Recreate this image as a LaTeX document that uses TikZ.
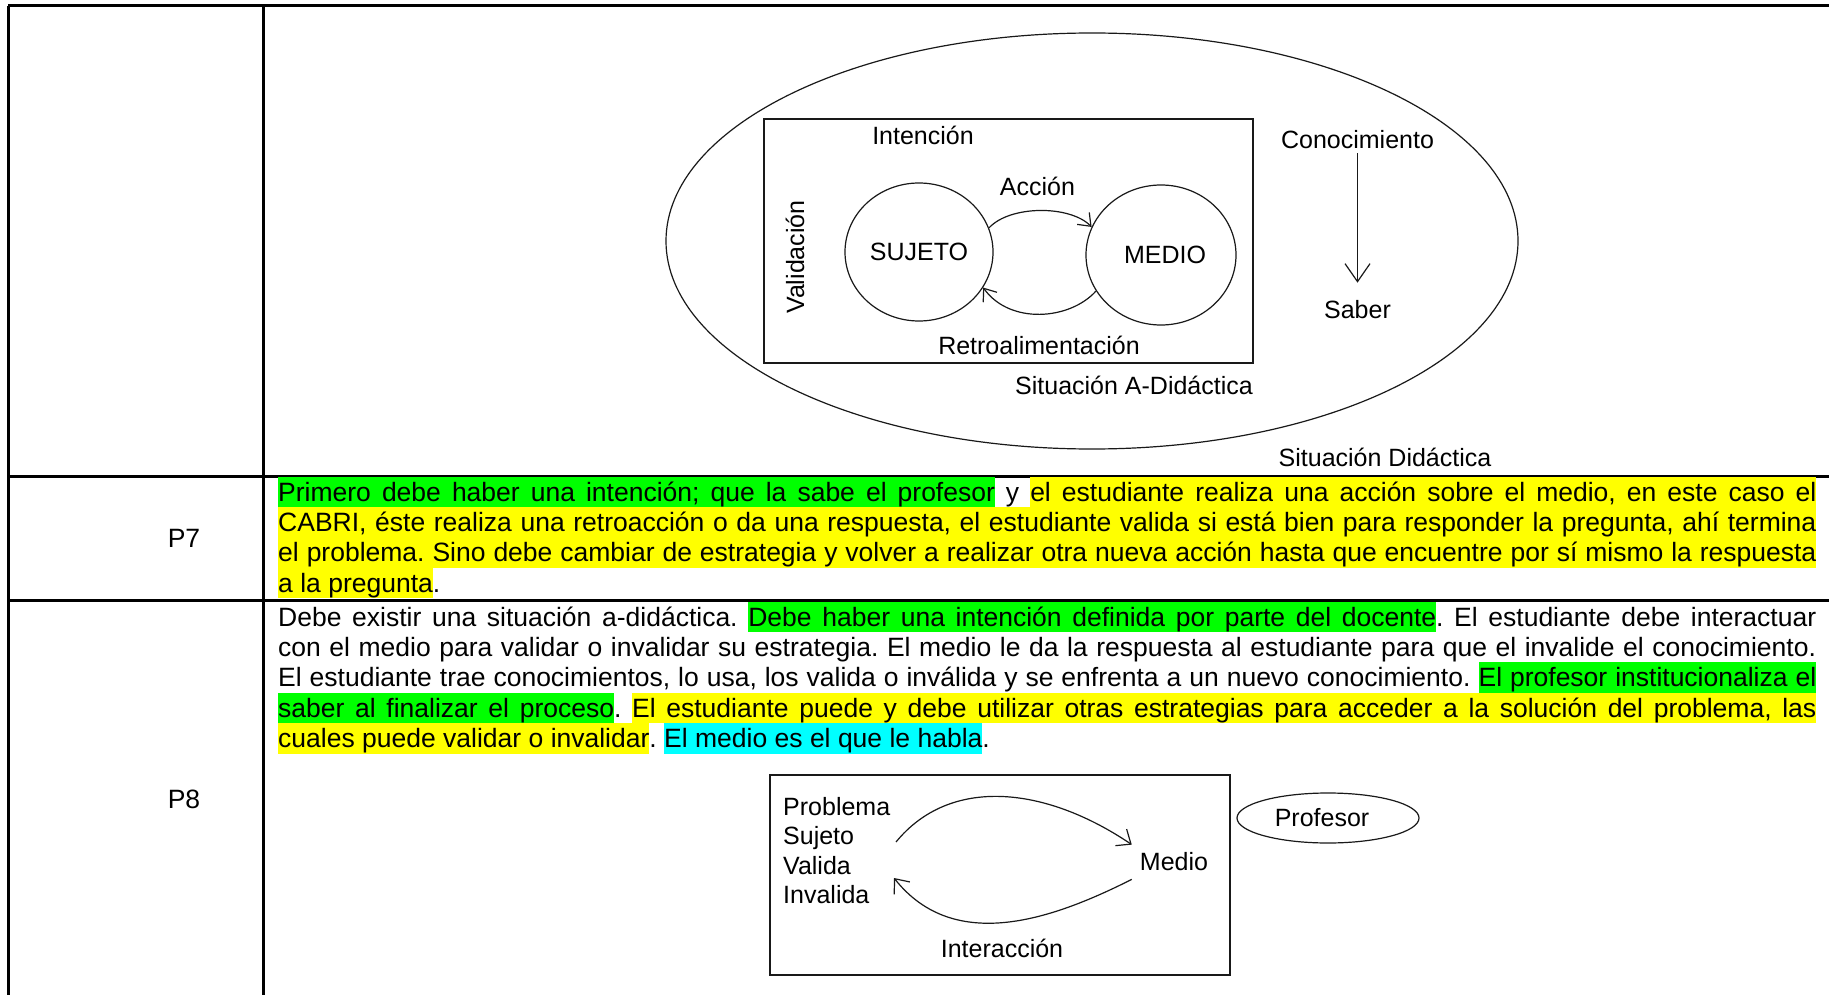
\documentclass[tikz,border=0pt]{standalone}
\usepackage{fontspec}
\setmainfont{Liberation Sans}
\usetikzlibrary{arrows.meta,shapes.geometric}
\definecolor{hlg}{RGB}{0,255,0}
\definecolor{hly}{RGB}{255,255,0}
\definecolor{hlc}{RGB}{0,255,255}
\definecolor{ln}{RGB}{25,25,25}
\newdimen\HLh \HLh=24.4pt
\newdimen\HLd \HLd=6pt
\newdimen\TW \TW=1538pt
\ExplSyntaxOn
\cs_new_protected:Npn \rs_hlword:nn #1#2
  {
    \hbox_set:Nn \l_tmpa_box {#2}
    \hbox_overlap_right:n { \color{#1} \vrule ~ height \HLh ~ depth \HLd ~ width \box_wd:N \l_tmpa_box }
    \box_use:N \l_tmpa_box
  }
\NewDocumentCommand \HLsp { m }
  { { \color{#1} \leaders \vrule ~ height \HLh ~ depth \HLd \hskip 0.278em ~ plus ~ 1fil ~ minus ~ 0.1em \relax } }
\NewDocumentCommand \HL { m m }
  {
    \seq_set_split:Nnn \l_tmpa_seq { ~ } {#2}
    \bool_set_true:N \l_tmpa_bool
    \seq_map_inline:Nn \l_tmpa_seq
      {
        \bool_if:NF \l_tmpa_bool { \HLsp{#1} }
        \bool_set_false:N \l_tmpa_bool
        \rs_hlword:nn {#1} {##1}
      }
  }
\ExplSyntaxOff
\newcommand\JL[1]{\hbox to \TW{\frenchspacing\spaceskip=0.278em plus 1fil minus 0.1em\relax #1}}
\newcommand\LL[1]{\hbox to \TW{\frenchspacing\spaceskip=0.278em minus 0.1em\relax #1\hskip 0pt plus 1fill}}
\tikzset{
  body/.style={font=\fontsize{26.5}{30.4}\selectfont, inner sep=0pt},
  lab/.style={font=\fontsize{25}{30}\selectfont, inner sep=0pt},
  grid/.style={line width=3pt, black},
  thinl/.style={line width=1.2pt, ln},
  shp/.style={draw=ln, line width=1.2pt, inner sep=0pt},
}
\begin{document}
\begin{tikzpicture}[x=1pt,y=-1pt]
\useasboundingbox[fill=white] (0,0) rectangle (1829,995);
% table grid
\coordinate (tl) at (8,6);
\coordinate (tr) at (1829,6);
\coordinate (bl) at (8,995);
\coordinate (cd) at (263,6);
\coordinate (cb) at (263,995);
\coordinate (r1l) at (8,476);
\coordinate (r1r) at (1829,476);
\coordinate (r2l) at (8,600);
\coordinate (r2r) at (1829,600);
\draw[grid] (tl) -- (tr);
\draw[grid] (tl) -- (bl);
\draw[grid] (cd) -- (cb);
\draw[grid] (r1l) -- (r1r);
\draw[grid] (r2l) -- (r2r);

% ---- top diagram
\node[shp, ellipse, minimum width=852pt, minimum height=416pt] (sd) at (1092,241) {};
\node[shp, rectangle, minimum width=489pt, minimum height=244pt] (sad) at (1008.5,241) {};
\node[shp, ellipse, minimum width=148pt, minimum height=138pt, lab] (suj) at (919,252) {SUJETO};
\node[shp, ellipse, minimum width=150pt, minimum height=140pt, lab] (med) at (1161,255) {\hspace*{8pt}MEDIO};
\node[lab, anchor=base] (int) at (923,145) {Intención};
\node[lab, anchor=base] (acc) at (1037.5,196) {Acción};
\node[lab, rotate=90] (val) at (795,257) {Validación};
\node[lab, anchor=base] (ret) at (1039,354) {Retroalimentación};
\node[lab, anchor=base] (sadl) at (1134,394) {Situación A-Didáctica};
\node[lab, anchor=base] (con) at (1357.5,149) {Conocimiento};
\node[lab, anchor=base] (sab) at (1357.5,318) {Saber};
\node[lab, anchor=base] (sdl) at (1385,466) {Situación Didáctica};
\draw[thinl, -{Straight Barb[length=11pt,width=17pt]}] (suj.19) .. controls (1010,205) and (1070,205) .. (med.158);
\draw[thinl, -{Straight Barb[length=11pt,width=17pt]}] (med.209) .. controls (1070,320) and (1010,325) .. (suj.331);
\draw[thinl, -{Straight Barb[length=18pt,width=25pt]}] ([yshift=-4pt]con.south) -- ([yshift=17pt]sab.north);

% ---- row labels
\node[body, anchor=base] (p7) at (184,547.5) {P7};
\node[body, anchor=base] (p8) at (184,808.5) {P8};

% ---- P7 text
\node[body, anchor=base west] (p7a) at (278,501) {\JL{\HL{hlg}{Primero debe haber una intención; que la sabe el profesor} y \HL{hly}{el estudiante realiza una acción sobre el medio, en este caso el}}};
\node[body, anchor=base west] (p7b) at (278,531.4) {\JL{\HL{hly}{CABRI, éste realiza una retroacción o da una respuesta, el estudiante valida si está bien para responder la pregunta, ahí termina}}};
\node[body, anchor=base west] (p7c) at (278,561.8) {\JL{\HL{hly}{el problema. Sino debe cambiar de estrategia y volver a realizar otra nueva acción hasta que encuentre por sí mismo la respuesta}}};
\node[body, anchor=base west] (p7d) at (278,592.2) {\LL{\HL{hly}{a la pregunta}.}};

% ---- P8 text
\node[body, anchor=base west] (p8a) at (278,626) {\JL{Debe existir una situación a-didáctica. \HL{hlg}{Debe haber una intención definida por parte del docente}. El estudiante debe interactuar}};
\node[body, anchor=base west] (p8b) at (278,656.4) {\JL{con el medio para validar o invalidar su estrategia. El medio le da la respuesta al estudiante para que el invalide el conocimiento.}};
\node[body, anchor=base west] (p8c) at (278,686.8) {\JL{El estudiante trae conocimientos, lo usa, los valida o inválida y se enfrenta a un nuevo conocimiento. \HL{hlg}{El profesor institucionaliza el}}};
\node[body, anchor=base west] (p8d) at (278,717.2) {\JL{\HL{hlg}{saber al finalizar el proceso}. \HL{hly}{El estudiante puede y debe utilizar otras estrategias para acceder a la solución del problema, las}}};
\node[body, anchor=base west] (p8e) at (278,747.6) {\LL{\HL{hly}{cuales puede validar o invalidar}. \HL{hlc}{El medio es el que le habla}.}};

% ---- P8 diagram
\node[shp, rectangle, minimum width=460pt, minimum height=200pt] (ibox) at (1000,875) {};
\node[lab, anchor=base west] (prob) at (783,815) {Problema};
\node[lab, anchor=base west] (suje) at (783,844.5) {Sujeto};
\node[lab, anchor=base west] (vali) at (783,874) {Valida};
\node[lab, anchor=base west] (inva) at (783,903.5) {Invalida};
\node[lab, inner sep=8pt] (med2) at (1174,862) {Medio};
\node[lab, anchor=base] (inter) at (1002,957) {Interacción};
\node[shp, ellipse, minimum width=182pt, minimum height=50pt, lab] (prof) at (1328,818) {Profesor\hspace*{12pt}};
\coordinate (u0) at (896,842);
\coordinate (l1) at (894,878);
\draw[thinl, -{Straight Barb[length=12pt,width=20pt]}] (u0) .. controls (950,776) and (1045,786) .. (med2.north west);
\draw[thinl, -{Straight Barb[length=12pt,width=20pt]}] (med2.south west) .. controls (1055,918) and (955,955) .. (l1);
\end{tikzpicture}
\end{document}
